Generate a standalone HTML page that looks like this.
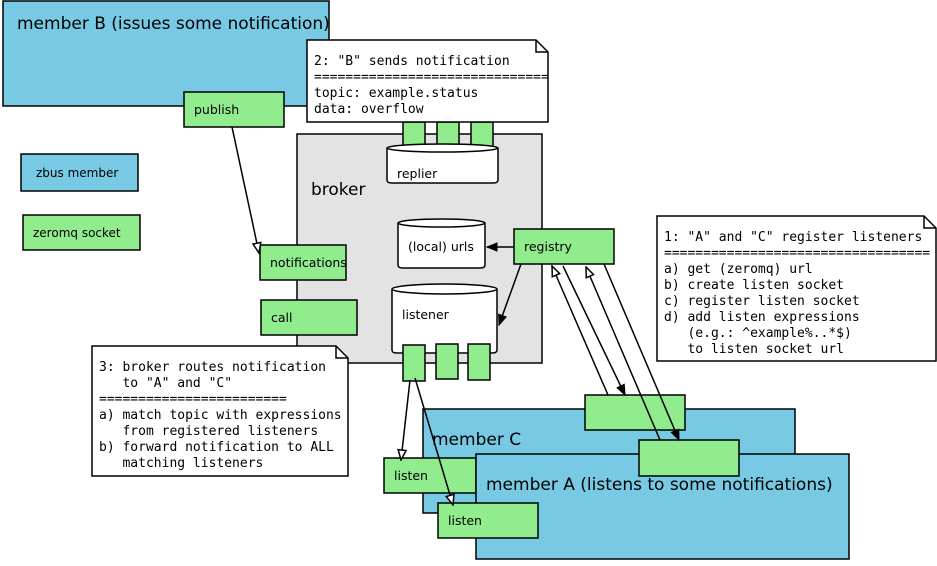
<!DOCTYPE html><html><head><style>body{margin:0;background:#fff}text{font-family:"DejaVu Sans","Liberation Sans",sans-serif;fill:#000;white-space:pre}.m{font-family:"DejaVu Sans Mono","Liberation Mono",monospace;font-size:13px;white-space:pre}</style></head><body>
<svg width="937" height="561" xmlns="http://www.w3.org/2000/svg" xml:space="preserve">
<defs>
<marker id="h" markerWidth="12" markerHeight="10" refX="11" refY="5" orient="auto" markerUnits="userSpaceOnUse"><path d="M1,1 L11,5 L1,9 Z" fill="#fff" stroke="#000" stroke-width="1.5"/></marker>
<marker id="f" markerWidth="12" markerHeight="10" refX="11" refY="5" orient="auto" markerUnits="userSpaceOnUse"><path d="M1,1 L11,5 L1,9 Z" fill="#000" stroke="#000"/></marker>
</defs>
<g stroke="#000" stroke-width="1.5">
<rect x="3" y="1" width="326" height="105" fill="#78c9e4"/>
<rect x="297" y="134" width="245" height="229" fill="#e3e3e3"/>
<rect x="184" y="92" width="100" height="35" fill="#90ec8d"/>
<rect x="21" y="154" width="117" height="37" fill="#78c9e4"/>
<rect x="23" y="215" width="117" height="35" fill="#90ec8d"/>
<rect x="403" y="122" width="22" height="25" fill="#90ec8d"/>
<rect x="437" y="122" width="22" height="25" fill="#90ec8d"/>
<rect x="471" y="122" width="22" height="25" fill="#90ec8d"/>
<path d="M307,40 H536 L548,52 V122 H307 Z" fill="#fff"/><path d="M536,40 V52 H548" fill="none"/>
<path d="M387,148 V180 Q387,183 392,183 H493 Q498,183 498,180 V148" fill="#fff"/><ellipse cx="442.5" cy="148" rx="55.5" ry="4" fill="#fff"/>
<path d="M398,223 V265 Q398,268 403,268 H480 Q485,268 485,265 V223" fill="#fff"/><ellipse cx="441.5" cy="223" rx="43.5" ry="4" fill="#fff"/>
<path d="M392,289 V350 Q392,353 397,353 H492 Q497,353 497,350 V289" fill="#fff"/><ellipse cx="444.5" cy="289" rx="52.5" ry="5" fill="#fff"/>
<rect x="514" y="229" width="100" height="35" fill="#90ec8d"/>
<rect x="403" y="345" width="22" height="36" fill="#90ec8d"/>
<rect x="436" y="344" width="22" height="35" fill="#90ec8d"/>
<rect x="468" y="344" width="22" height="36" fill="#90ec8d"/>
<rect x="260" y="245" width="86" height="35" fill="#90ec8d"/>
<rect x="261" y="300" width="96" height="35" fill="#90ec8d"/>
<path d="M92,346 H336 L348,358 V476 H92 Z" fill="#fff"/><path d="M336,346 V358 H348" fill="none"/>
<path d="M657,216 H924 L936,228 V361 H657 Z" fill="#fff"/><path d="M924,216 V228 H936" fill="none"/>
<rect x="423" y="409" width="372" height="104" fill="#78c9e4"/>
<rect x="384" y="458" width="92" height="35" fill="#90ec8d"/>
<rect x="476" y="454" width="373" height="105" fill="#78c9e4"/>
<rect x="438" y="503" width="100" height="35" fill="#90ec8d"/>
<rect x="585" y="395" width="100" height="35" fill="#90ec8d"/>
<rect x="639" y="440" width="100" height="36" fill="#90ec8d"/>
<g fill="none">
<line x1="232" y1="127" x2="259" y2="253" marker-end="url(#h)"/>
<line x1="514" y1="247" x2="487" y2="247" marker-end="url(#f)"/>
<line x1="521" y1="264" x2="499" y2="325" marker-end="url(#f)"/>
<line x1="608" y1="395" x2="552" y2="266" marker-end="url(#h)"/>
<line x1="563" y1="266" x2="625" y2="395" marker-end="url(#f)"/>
<line x1="660" y1="440" x2="586" y2="267" marker-end="url(#h)"/>
<line x1="604" y1="264" x2="679" y2="440" marker-end="url(#f)"/>
<line x1="410" y1="380" x2="401" y2="460" marker-end="url(#h)"/>
<line x1="415" y1="378" x2="453" y2="505" marker-end="url(#h)"/>
</g>
</g>
<text x="17" y="29" font-size="17">member B (issues some notification)</text>
<text x="194" y="114" font-size="12.5">publish</text>
<text x="36" y="177" font-size="12">zbus member</text>
<text x="33" y="237" font-size="12">zeromq socket</text>
<text x="311" y="195" font-size="17">broker</text>
<text x="397" y="178" font-size="12.5">replier</text>
<text x="408" y="251" font-size="12.5">(local) urls</text>
<text x="524" y="251" font-size="12.5">registry</text>
<text x="402" y="319" font-size="12.5">listener</text>
<text x="270" y="267" font-size="12.5">notifications</text>
<text x="271" y="322" font-size="12.5">call</text>
<text x="432" y="445" font-size="17">member C</text>
<text x="486" y="490" font-size="17">member A (listens to some notifications)</text>
<text x="394" y="480" font-size="12.5">listen</text>
<text x="448" y="525" font-size="12.5">listen</text>
<text x="314" y="65" class="m">2: "B" sends notification</text>
<text x="314" y="81" class="m">==============================</text>
<text x="314" y="97" class="m">topic: example.status</text>
<text x="314" y="113" class="m">data: overflow</text>
<text x="99" y="371" class="m">3: broker routes notification</text>
<text x="99" y="387" class="m">   to "A" and "C"</text>
<text x="99" y="403" class="m">========================</text>
<text x="99" y="419" class="m">a) match topic with expressions</text>
<text x="99" y="435" class="m">   from registered listeners</text>
<text x="99" y="451" class="m">b) forward notification to ALL</text>
<text x="99" y="467" class="m">   matching listeners</text>
<text x="664" y="241" class="m">1: "A" and "C" register listeners</text>
<text x="664" y="257" class="m">==================================</text>
<text x="664" y="273" class="m">a) get (zeromq) url</text>
<text x="664" y="289" class="m">b) create listen socket</text>
<text x="664" y="305" class="m">c) register listen socket</text>
<text x="664" y="321" class="m">d) add listen expressions</text>
<text x="664" y="337" class="m">   (e.g.: ^example%..*$)</text>
<text x="664" y="353" class="m">   to listen socket url</text>
</svg></body></html>
